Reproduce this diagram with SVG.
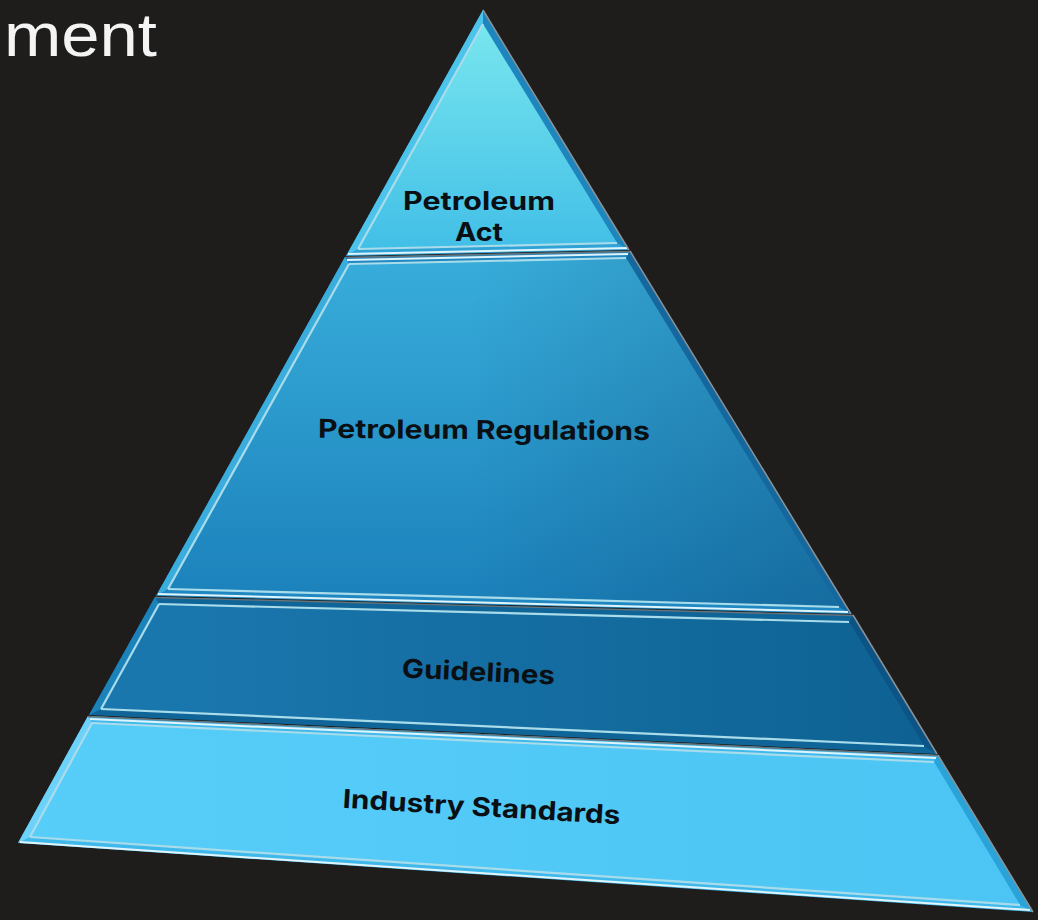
<svg xmlns="http://www.w3.org/2000/svg" width="1038" height="920" viewBox="0 0 1038 920">
  <defs>
    <linearGradient id="g1" x1="0" y1="24" x2="0" y2="249" gradientUnits="userSpaceOnUse">
      <stop offset="0" stop-color="#78e6ee"/>
      <stop offset="1" stop-color="#42bfe7"/>
    </linearGradient>
    <linearGradient id="g2" x1="0" y1="265" x2="0" y2="607" gradientUnits="userSpaceOnUse">
      <stop offset="0" stop-color="#37acda"/>
      <stop offset="1" stop-color="#1b80ba"/>
    </linearGradient>
    <linearGradient id="g3" x1="158" y1="0" x2="924" y2="0" gradientUnits="userSpaceOnUse">
      <stop offset="0" stop-color="#1a77ae"/>
      <stop offset="1" stop-color="#0e6293"/>
    </linearGradient>
    <linearGradient id="g4" x1="30" y1="0" x2="1020" y2="0" gradientUnits="userSpaceOnUse">
      <stop offset="0" stop-color="#57cdf9"/>
      <stop offset="1" stop-color="#4cc5f4"/>
    </linearGradient>
    <linearGradient id="shadeR" x1="0" y1="0" x2="1" y2="0">
      <stop offset="0.45" stop-color="#00203c" stop-opacity="0"/>
      <stop offset="1" stop-color="#00203c" stop-opacity="0.22"/>
    </linearGradient>
  </defs>
  <style>
    .edge { fill: none; stroke: #8b9296; stroke-width: 1.5; }
    .hl { fill: none; stroke: #a9dcea; stroke-width: 2.2; }
    .hlw { fill: none; stroke: #dff4fb; stroke-width: 2; }
    .dk { fill: none; stroke: #66737a; stroke-width: 1.4; }
    .lbl { font-family: Inter, "Liberation Sans", Arial, sans-serif; font-weight: bold; fill: #0a0f14; text-anchor: middle; }
    .title { font-family: "Liberation Sans", Arial, sans-serif; fill: #f4f4f4; }
  </style>

  <rect width="1038" height="920" fill="#1e1d1b"/>

  <text class="title" x="4" y="56" font-size="62" textLength="153" lengthAdjust="spacingAndGlyphs">ment</text>

  <g id="tier-act">
    <polygon points="483,10 346,256 629,250" fill="#2fa3d6"/>
    <polygon points="483,10 483,24 358,249 346,256" fill="#4cc3ea"/>
    <polygon points="483,10 629,250 617,243 483,24" fill="#1f86bd"/>
    <polygon points="483,24 358,249 617,243" fill="url(#g1)"/>
    <polyline class="hl" points="358,249 617,243"/>
    <polyline class="hl" points="483,24 358,249" stroke-width="1.4"/>
    <polyline class="hlw" points="348,254 627,248"/>
    <polyline class="edge" points="483,10 629,250"/>
    <text class="lbl" x="479" y="210" font-size="25" textLength="152" lengthAdjust="spacingAndGlyphs">Petroleum</text>
    <text class="lbl" x="479" y="241" font-size="25" textLength="48" lengthAdjust="spacingAndGlyphs">Act</text>
  </g>

  <g id="tier-regulations">
    <polygon points="345,257 630,251 851,614 156,596" fill="#1f88c2"/>
    <polygon points="345,257 349,264 168,589 156,596" fill="#3aaddc"/>
    <polygon points="630,251 851,614 839,607 626,258" fill="#14689e"/>
    <polygon points="349,264 626,258 839,607 168,589" fill="url(#g2)"/>
    <polygon points="349,264 626,258 839,607 168,589" fill="url(#shadeR)"/>
    <polyline class="dk" points="345,257.5 630,251.5"/>
    <polyline class="hlw" points="347,260 628,254"/>
    <polyline class="hl" points="349,264 626,258"/>
    <polyline class="hl" points="168,589 839,607"/>
    <polyline class="hl" points="349,264 168,589" stroke-width="1.4"/>
    <polyline class="hlw" points="158,594 848,612"/>
    <polyline class="edge" points="630,251 851,614"/>
    <text class="lbl" x="484" y="439" font-size="26" textLength="332" lengthAdjust="spacingAndGlyphs" transform="rotate(0.4 484 439)">Petroleum Regulations</text>
  </g>

  <g id="tier-guidelines">
    <polygon points="155,597 853,615 937,754 89,715" fill="#0f6597"/>
    <polygon points="155,597 159,604 101,709 89,715" fill="#1c82ba"/>
    <polygon points="853,615 937,754 924,746 849,622" fill="#0b5485"/>
    <polygon points="159,604 849,622 924,746 101,709" fill="url(#g3)"/>
    <polyline class="dk" points="155,597.5 853,615.5"/>
    <polyline class="hl" points="159,604 849,622" stroke="#8fc3d3"/>
    <polyline class="hl" points="101,709 924,746" stroke="#8fc3d3"/>
    <polyline class="hl" points="159,604 101,709" stroke="#8fc3d3" stroke-width="1.4"/>
    <polyline class="edge" points="853,615 937,754"/>
    <text class="lbl" x="478" y="681" font-size="26" textLength="153" lengthAdjust="spacingAndGlyphs" transform="rotate(2.6 478 681)">Guidelines</text>
  </g>

  <g id="tier-standards">
    <polygon points="88,716 938,755 1033,912 18,843" fill="#3fb9ec"/>
    <polygon points="88,716 92,723 30,837 18,843" fill="#6cd2fa"/>
    <polygon points="938,755 1033,912 1020,905 934,762" fill="#2aa3d8"/>
    <polygon points="92,723 934,762 1020,905 30,837" fill="url(#g4)"/>
    <polyline class="dk" points="88,716.5 938,755.5"/>
    <polyline class="hlw" points="90,719 936,758" stroke-width="2.5"/>
    <polyline class="hl" points="92,723 934,762" stroke="#c5ecf8"/>
    <polyline class="hl" points="30,837 1020,905" stroke="#b9e8f8" stroke-width="3"/>
    <polyline class="hl" points="92,723 30,837" stroke="#c5ecf8" stroke-width="1.6"/>
    <polyline class="hlw" points="20,842 1030,910" stroke-width="2.5"/>
    <polyline class="edge" points="938,755 1033,912"/>
    <text class="lbl" x="481" y="816" font-size="26" textLength="278" lengthAdjust="spacingAndGlyphs" transform="rotate(3.4 481 816)">Industry Standards</text>
  </g>
</svg>
